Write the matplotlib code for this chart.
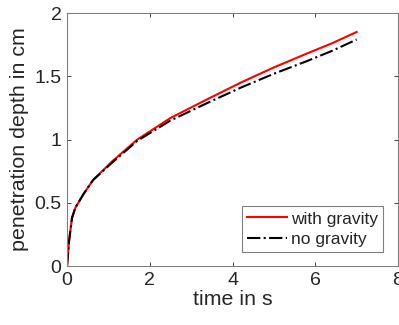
import matplotlib.pyplot as plt

plt.rcParams['font.family'] = ['Liberation Sans', 'DejaVu Sans']

# Zeit in s
tid = [0, 0.05, 0.12, 0.2, 0.4, 0.63, 1.1, 1.7, 2.5, 3.4, 4.2, 5.0, 5.8, 6.4, 7.0]
# Eindringtiefe in cm
med_tyngde = [0, 0.2, 0.38, 0.46, 0.57, 0.68, 0.83, 1.0, 1.17, 1.32, 1.45, 1.57, 1.68, 1.76, 1.85]
uten_tyngde = [0, 0.2, 0.38, 0.46, 0.57, 0.68, 0.82, 0.99, 1.15, 1.29, 1.41, 1.52, 1.62, 1.70, 1.79]

xticks = [0, 2, 4, 6, 8]
yticks = [0, 0.5, 1, 1.5, 2]

grey = '#262626'

fig = plt.figure(figsize=(3.99, 3.25), dpi=100)
ax = fig.add_axes([0.168, 0.1815, 0.8295, 0.7785])

ax.plot(tid, med_tyngde, color='red', linewidth=1.5, label='with gravity')
ax.plot(tid, uten_tyngde, color='black', linewidth=1.5, linestyle='-.', label='no gravity')

ax.set_xlim(0, 8)
ax.set_ylim(0, 2)
ax.set_xticks(xticks)
ax.set_yticks(yticks)
ax.set_xticklabels(['0', '2', '4', '6', '8'])
ax.set_yticklabels(['0', '0.5', '1', '1.5', '2'])

ax.tick_params(direction='in', length=3, width=0.6, top=True, right=True,
               labelsize=14, colors=grey, pad=4)
for s in ax.spines.values():
    s.set_color('#808080')
    s.set_linewidth(0.8)

ax.set_xlabel('time in s', fontsize=15.4, color=grey, labelpad=1)
ax.set_ylabel('penetration depth in cm', fontsize=15.4, color=grey, labelpad=4)

leg = ax.legend(loc='lower right', bbox_to_anchor=(0.955, 0.055), borderaxespad=0,
                fontsize=12.5, fancybox=False, edgecolor='#808080', framealpha=1,
                handlelength=2.3, handletextpad=0.2, borderpad=0.3, labelspacing=0.3)
leg.get_frame().set_linewidth(0.8)
for t in leg.get_texts():
    t.set_color(grey)

fig.savefig('out.png', dpi=100)
